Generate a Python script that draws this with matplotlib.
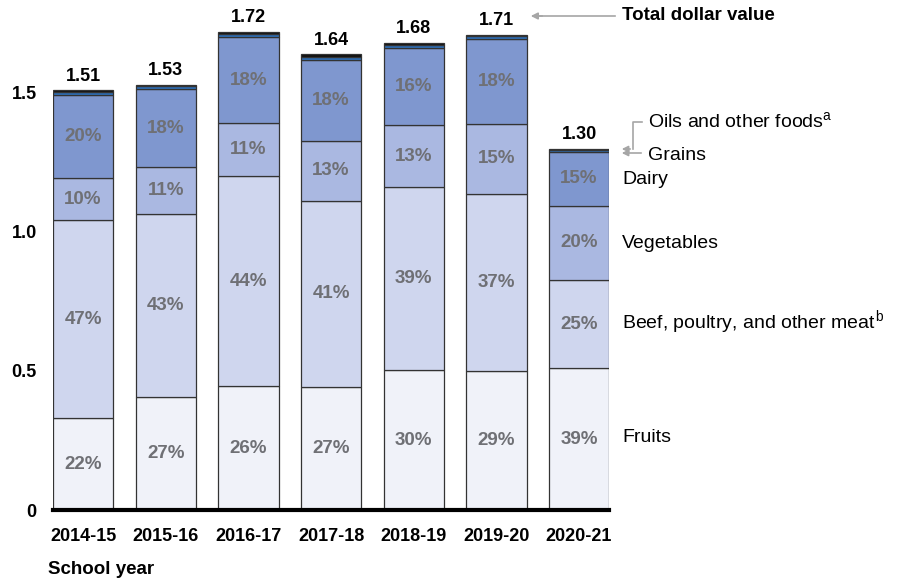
import matplotlib.pyplot as plt
import numpy as np

plt.rcParams['font.family'] = ['Liberation Sans', 'DejaVu Sans']

years = ['2014-15', '2015-16', '2016-17', '2017-18', '2018-19', '2019-20', '2020-21']
totals = [1.51, 1.53, 1.72, 1.64, 1.68, 1.71, 1.30]

# dollar values (billions)
fruits = [0.330, 0.408, 0.446, 0.442, 0.502, 0.500, 0.509]
meat = [0.713, 0.655, 0.754, 0.671, 0.660, 0.638, 0.320]
vegetables = [0.151, 0.170, 0.193, 0.215, 0.222, 0.252, 0.266]
dairy = [0.300, 0.282, 0.307, 0.290, 0.277, 0.305, 0.193]
grains = [0.010, 0.009, 0.012, 0.013, 0.010, 0.009, 0.007]
oils = [0.006, 0.006, 0.008, 0.009, 0.009, 0.006, 0.005]

fruits_pct = ['22%', '27%', '26%', '27%', '30%', '29%', '39%']
meat_pct = ['47%', '43%', '44%', '41%', '39%', '37%', '25%']
veg_pct = ['10%', '11%', '11%', '13%', '13%', '15%', '20%']
dairy_pct = ['20%', '18%', '18%', '18%', '16%', '18%', '15%']

fig = plt.figure(figsize=(9, 5.81), dpi=100)
ax = fig.add_axes([0.0587, 0.1222, 0.6182, 0.8613])

x = np.arange(len(years))
w = 0.73
layers = [
    (fruits, '#f0f2f9', fruits_pct),
    (meat, '#cfd6ee', meat_pct),
    (vegetables, '#aab8e1', veg_pct),
    (dairy, '#7f97cf', dairy_pct),
    (grains, '#2e6fb8', None),
    (oils, '#111111', None),
]
bottom = np.zeros(len(years))
for vals, col, labels in layers:
    vals = np.array(vals)
    ax.bar(x, vals, w, bottom=bottom, color=col, edgecolor='#333333', linewidth=0.9)
    if labels is not None:
        for i in range(len(years)):
            ax.text(x[i], bottom[i] + vals[i] / 2, labels[i], ha='center', va='center',
                    fontsize=13.5, fontweight='bold', color='#6f7075')
    bottom = bottom + vals

for i in range(len(years)):
    ax.text(x[i], bottom[i] + 0.02, '%.2f' % totals[i], ha='center', va='bottom',
            fontsize=13, fontweight='bold', color='black')

ax.set_xlim(-w / 2, len(years) - 1 + w / 2)
ax.set_ylim(0, 1.8)
ax.set_yticks([0, 0.5, 1.0, 1.5])
ax.set_yticklabels(['0', '0.5', '1.0', '1.5'], fontsize=13, fontweight='bold')
ax.set_xticks(x)
ax.set_xticklabels(years, fontsize=13, fontweight='bold')
ax.tick_params(axis='y', length=0, pad=11.5)
ax.tick_params(axis='x', length=0, pad=13)
for s in ['top', 'right', 'left']:
    ax.spines[s].set_visible(False)
ax.spines['bottom'].set_linewidth(3)
ax.spines['bottom'].set_color('black')

fig.text(48 / 900, 1 - 569 / 581, 'School year', fontsize=13.5, fontweight='bold', va='center')

# right-side labels (figure pixel positions)
def ftext(px, py, s, **kw):
    fig.text(px / 900, 1 - py / 581, s, va='center', fontsize=14, **kw)

ftext(622, 437, 'Fruits')
ftext(622, 323, r'Beef, poultry, and other meat$^{\,\mathregular{b}}$')
ftext(622, 243, 'Vegetables')
ftext(622, 180, 'Dairy')
ftext(648, 155, 'Grains')
ftext(648, 122, r'Oils and other foods$^{\mathregular{a}}$')
fig.text(622 / 900, 1 - 16 / 581, 'Total dollar value', va='center', fontsize=13.5, fontweight='bold')

gray = '#a6a6a6'
def fxy(px, py):
    return (px / 900, 1 - py / 581)

fig.add_artist(plt.Line2D([615 / 900, 540 / 900], [1 - 16 / 581, 1 - 16 / 581], color=gray, lw=1.2))
ax.annotate('', xy=fxy(528, 16), xytext=fxy(545, 16), xycoords='figure fraction',
            arrowprops=dict(arrowstyle='-|>', color=gray, lw=1.2, mutation_scale=10))
ax.annotate('', xy=fxy(619, 153), xytext=fxy(644, 153), xycoords='figure fraction',
            arrowprops=dict(arrowstyle='-|>', color=gray, lw=1.2, mutation_scale=9))
fig.add_artist(plt.Line2D([642 / 900, 633 / 900, 633 / 900], [1 - 122 / 581, 1 - 122 / 581, 1 - 149 / 581],
                          color=gray, lw=1.2))
ax.annotate('', xy=fxy(619, 149), xytext=fxy(633, 149), xycoords='figure fraction',
            arrowprops=dict(arrowstyle='-|>', color=gray, lw=1.2, mutation_scale=9))

fig.savefig('out.png', dpi=100)
